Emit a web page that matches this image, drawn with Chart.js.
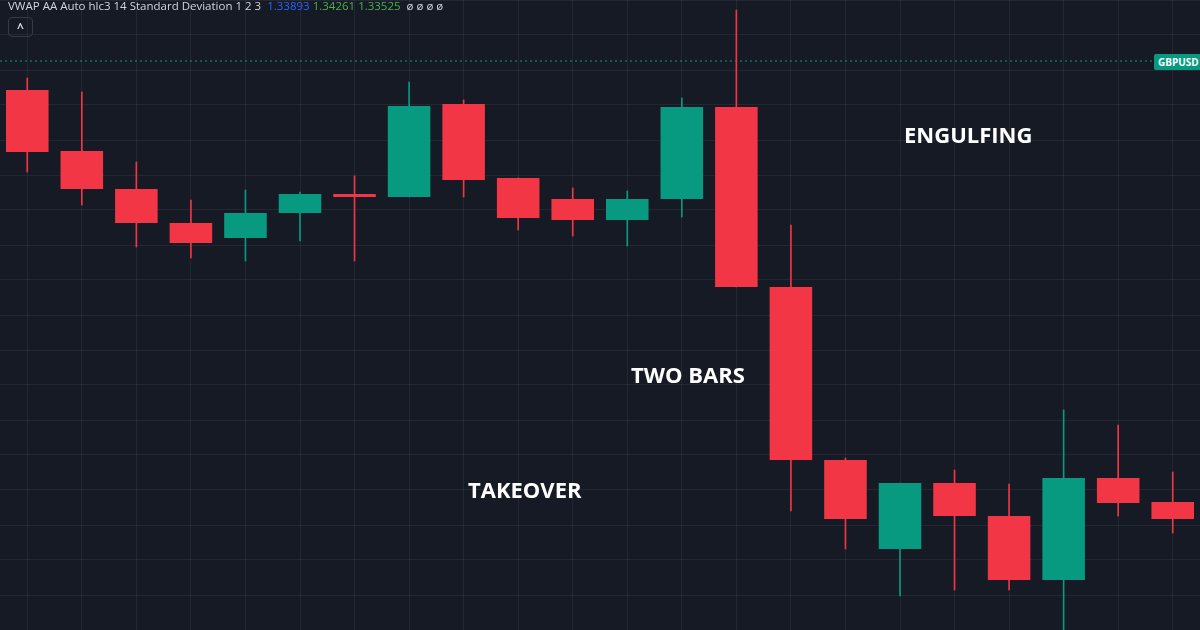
<!DOCTYPE html>
<html><head><meta charset="utf-8">
<script src="https://cdn.jsdelivr.net/npm/chart.js@4"></script>
<style>
html,body{margin:0;padding:0;background:#161a25;width:1200px;height:630px;overflow:hidden;font-family:"Open Sans","Noto Sans",sans-serif}
#wrap{position:relative;width:1200px;height:630px}
.t{position:absolute;color:#fff;font-weight:700;font-size:22px;font-family:"Open Sans",sans-serif}
#hdr{position:absolute;left:8px;top:-2px;font-size:11.5px;color:#d1d4dc;white-space:nowrap}
#btn{position:absolute;left:8px;top:17px;width:23px;height:18px;border:1px solid #363a45;border-radius:4px;color:#d1d4dc;font-size:12px;font-weight:700;text-align:center;line-height:20px}
#sym{position:absolute;left:1154px;top:54px;background:#089981;color:#fff;font-size:10px;font-weight:700;padding:1px 4px;border-radius:2px}
</style></head><body>
<div id="wrap"><canvas id="c" width="1200" height="630"></canvas>
<div id="hdr">VWAP AA Auto hlc3 14 Standard Deviation 1 2 3 &nbsp;<span style="color:#2962ff">1.33893</span> <span style="color:#4caf50">1.34261</span> <span style="color:#4caf50">1.33525</span> &nbsp;ø ø ø ø</div>
<div id="btn">^</div>
<div id="sym">GBPUSD</div>
<div class="t" style="left:904px;top:119px">ENGULFING</div>
<div class="t" style="left:631px;top:359px">TWO BARS</div>
<div class="t" style="left:468px;top:474px">TAKEOVER</div>
</div>
<script>
const labels = Array.from({length:22},(_,i)=>String(i+1));
const opens  = [1.33820,1.33698,1.33622,1.33554,1.33524,1.33574,1.33612,1.33606,1.33792,1.33644,1.33602,1.33560,1.33602,1.33786,1.33426,1.33080,1.32902,1.33034,1.32968,1.32840,1.33044,1.32996];
const highs  = [1.33844,1.33816,1.33676,1.33600,1.33620,1.33616,1.33648,1.33836,1.33800,1.33644,1.33624,1.33618,1.33804,1.33980,1.33550,1.33084,1.33034,1.33060,1.33032,1.33180,1.33150,1.33056];
const lows   = [1.33656,1.33590,1.33506,1.33484,1.33478,1.33518,1.33478,1.33606,1.33606,1.33540,1.33528,1.33508,1.33566,1.33426,1.32978,1.32902,1.32808,1.32820,1.32820,1.32740,1.32968,1.32934];
const closes = [1.33696,1.33622,1.33554,1.33514,1.33574,1.33612,1.33606,1.33788,1.33640,1.33564,1.33560,1.33602,1.33786,1.33426,1.33080,1.32962,1.33034,1.32968,1.32840,1.33044,1.32994,1.32962];
const symbolLine = 1.33878;
const UP='#089981', DN='#f23645';
const cols = opens.map((o,i)=>closes[i]>=o?UP:DN);
const bodies = opens.map((o,i)=>{let a=o,b=closes[i]; if(Math.abs(a-b)<0.00006){const m=(a+b)/2;a=m-0.00003;b=m+0.00003;} return [a,b];});
const wicks = highs.map((h,i)=>[lows[i],h]);
const linePlugin={id:'sl',beforeDatasetsDraw(ch){const y=ch.scales.y.getPixelForValue(symbolLine);const c=ch.ctx;c.save();c.strokeStyle='#089981';c.setLineDash([2,3]);c.lineWidth=1;c.beginPath();c.moveTo(0,y);c.lineTo(1200,y);c.stroke();c.restore();}};
new Chart(document.getElementById('c'),{
 type:'bar',
 data:{labels,datasets:[
  {data:bodies,backgroundColor:cols,barPercentage:0.78,categoryPercentage:1,grouped:false,order:1},
  {data:wicks,backgroundColor:cols,barThickness:1,grouped:false,order:2}
 ]},
 options:{responsive:false,animation:false,layout:{padding:0},
  plugins:{legend:{display:false},tooltip:{enabled:false}},
  scales:{
   x:{offset:true,grid:{color:'rgba(255,255,255,0.06)',offset:false,drawTicks:false},border:{display:false},ticks:{display:false}},
   y:{min:1.32740,max:1.34000,grid:{color:'rgba(255,255,255,0.06)',drawTicks:false},border:{display:false},ticks:{display:false,stepSize:0.0007}}
  }},
 plugins:[linePlugin]
});
</script></body></html>
